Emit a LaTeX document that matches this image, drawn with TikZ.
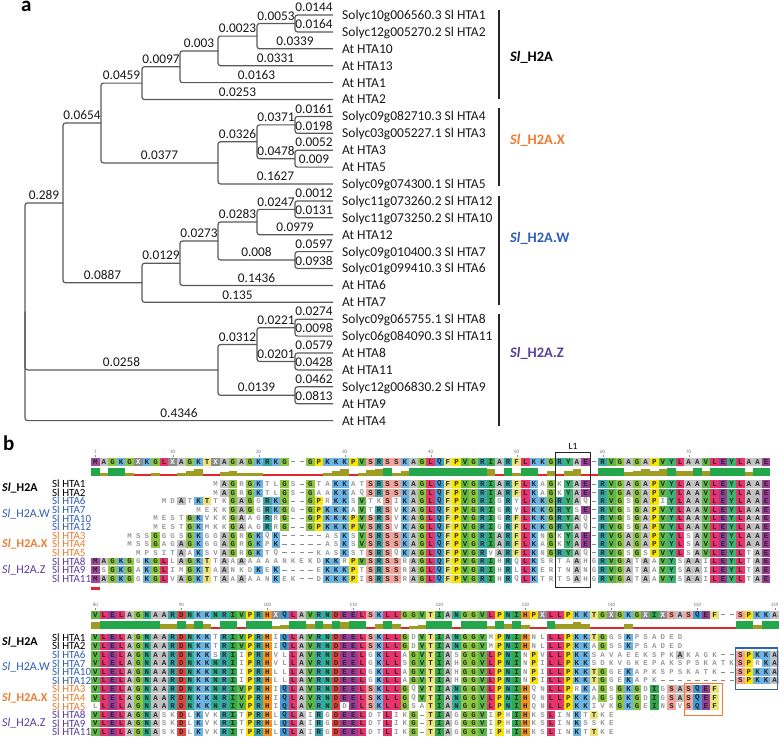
\documentclass[tikz,border=0pt]{standalone}
\usepackage{fontspec}
\setmainfont{Carlito}
\newfontfamily\resfam{Liberation Mono}
\definecolor{treegray}{HTML}{5A5A5A}
\definecolor{grpX}{HTML}{ED7D31}
\definecolor{grpW}{HTML}{2F5EB5}
\definecolor{grpZ}{HTML}{5A3E9E}
\definecolor{aaA}{HTML}{C2C2C2}
\definecolor{aaC}{HTML}{F0DC82}
\definecolor{aaD}{HTML}{E6433F}
\definecolor{aaE}{HTML}{9B3C96}
\definecolor{aaF}{HTML}{E9E57A}
\definecolor{aaG}{HTML}{8DC63F}
\definecolor{aaH}{HTML}{F7941D}
\definecolor{aaI}{HTML}{30AA4C}
\definecolor{aaK}{HTML}{6BB5E6}
\definecolor{aaL}{HTML}{E8336D}
\definecolor{aaM}{HTML}{A5489E}
\definecolor{aaN}{HTML}{2EAF8F}
\definecolor{aaP}{HTML}{FBE300}
\definecolor{aaQ}{HTML}{3F9CD6}
\definecolor{aaR}{HTML}{38A6AB}
\definecolor{aaS}{HTML}{F3A49B}
\definecolor{aaT}{HTML}{F1E278}
\definecolor{aaV}{HTML}{5DB947}
\definecolor{aaW}{HTML}{98CFE8}
\definecolor{aaY}{HTML}{3CB371}
\definecolor{aaX}{HTML}{8C8C8C}
\definecolor{barG}{HTML}{24A64A}
\definecolor{barO}{HTML}{9E9C22}
\definecolor{barR}{HTML}{E3262B}
\definecolor{boxB}{HTML}{2D62B5}
\definecolor{boxO}{HTML}{F07D28}
\makeatletter
\newcount\colidx
\newcount\sumcnt
\newcount\tmpcnt
\def\pitch{8.6}
\def\xzero{95.3}
\def\incr#1{\ifcsname#1\endcsname
  \expandafter\xdef\csname#1\endcsname{\the\numexpr\csname#1\endcsname+1\relax}%
  \else\expandafter\xdef\csname#1\endcsname{1}\fi}
\def\storecons#1#2{\gdef\curblk{#1}\global\colidx=0 \storeconsloop#2\relax}
\def\storeconsloop#1{\ifx#1\relax\expandafter\@gobble\else\expandafter\@firstofone\fi
  {\global\advance\colidx by 1
   \expandafter\xdef\csname cons-\curblk-\the\colidx\endcsname{#1}%
   \storeconsloop}}
\def\drawrow#1#2#3{\gdef\curblk{#1}\gdef\rowy{#2}\global\colidx=0 \drawrowloop#3\relax}
\def\drawrowloop#1{\ifx#1\relax\expandafter\@gobble\else\expandafter\@firstofone\fi
  {\global\advance\colidx by 1 \drawcell#1\drawrowloop}}
\def\gapmark{\draw[gapline] (\cx-2.2,\rowy) -- (\cx+2.2,\rowy);}
\def\drawcell#1{%
  \pgfmathsetmacro\cx{\xzero+(\the\colidx-1)*\pitch}%
  \ifx#1.\else
    \incr{n-\curblk-\the\colidx}%
    \ifx#1-%
      \gapmark
    \else
      \incr{cnt-\curblk-\the\colidx-#1}%
      \edef\cc{\csname cons-\curblk-\the\colidx\endcsname}%
      \if#1\cc
        \fill[aa#1] (\cx-4.3,\rowy-3.9) rectangle (\cx+4.3,\rowy+3.9);%
        \node[resdark] at (\cx,\rowy) {#1};%
      \else
        \node[reslight] at (\cx,\rowy) {#1};%
      \fi
    \fi
  \fi}
\def\drawconsrow#1#2{\gdef\curblk{#1}\gdef\rowy{#2}\global\colidx=0 \consloop}
\def\consloop{\global\advance\colidx by 1
  \ifcsname cons-\curblk-\the\colidx\endcsname
    \expandafter\@firstofone\else\expandafter\@gobble\fi
  {\edef\cc{\csname cons-\curblk-\the\colidx\endcsname}\drawconscell\consloop}}
\def\drawconscell{%
  \pgfmathsetmacro\cx{\xzero+(\the\colidx-1)*\pitch}%
  \if-\cc
    \gapmark
  \else
    \edef\fc{aa\cc}%
    \fill[fill=\fc] (\cx-4.3,\rowy-3.9) rectangle (\cx+4.3,\rowy+3.9);%
    \if X\cc \node[resX] at (\cx,\rowy) {X};\else \node[resdark] at (\cx,\rowy) {\cc};\fi
  \fi}
\def\drawbars#1#2#3{%
  \foreach \k in {1,...,#3}{%
    \global\sumcnt=0
    \foreach \L in {A,C,D,E,F,G,H,I,K,L,M,N,P,Q,R,S,T,V,W,Y}{%
      \ifcsname cnt-#1-\k-\L\endcsname
        \tmpcnt=\csname cnt-#1-\k-\L\endcsname\relax
        \global\advance\sumcnt by \numexpr\tmpcnt*(\tmpcnt-1)\relax
      \fi}%
    \ifcsname n-#1-\k\endcsname \tmpcnt=\csname n-#1-\k\endcsname\relax\else\tmpcnt=0 \fi
    \ifnum\tmpcnt>1
      \pgfmathsetmacro\bx{\xzero+(\k-1)*\pitch}%
      \ifnum\sumcnt=\numexpr\tmpcnt*(\tmpcnt-1)\relax
        \fill[barG] (\bx-4.3,#2-8.5) rectangle (\bx+4.3,#2);%
      \else
        \pgfmathsetmacro\idn{\the\sumcnt/(\the\tmpcnt*(\the\tmpcnt-1))}%
        \pgfmathsetmacro\bh{max(1.8,\idn*8.5)}%
        \ifdim\idn pt<0.3pt \def\bc{barR}\else\def\bc{barO}\fi
        \fill[fill=\bc] (\bx-4.3,#2-\bh) rectangle (\bx+4.3,#2);%
      \fi
    \fi}}
\def\tickmark#1#2#3{%
  \pgfmathsetmacro\tx{\xzero+(#1-1)*\pitch}%
  \draw[black!45, line width=0.4pt] (\tx,#3-7) -- (\tx,#3-4.4);%
  \node[font=\fontsize{5}{5}\selectfont, text=black!55, inner sep=0pt] at (\tx,#3-9.6) {#2};}
\makeatother
\tikzset{
  br/.style={draw=treegray, line width=1.2pt, rounded corners=2.5pt},
  bl/.style={font=\fontsize{13.3}{14}\selectfont, anchor=base, inner sep=0pt, yshift=3.3pt, text=black!90},
  leaf/.style={font=\fontsize{13.5}{14}\selectfont, anchor=base west, inner sep=0pt, text=black!90},
  grpbar/.style={draw=black!85, line width=1.6pt},
  grplab/.style={font=\bfseries\fontsize{14.5}{15}\selectfont, anchor=west, inner sep=0pt},
  resdark/.style={font=\resfam\bfseries\fontsize{7.4}{7.4}\selectfont, inner sep=0pt, text=black!85},
  reslight/.style={font=\resfam\bfseries\fontsize{7.4}{7.4}\selectfont, inner sep=0pt, text=black!40},
  resX/.style={font=\resfam\bfseries\fontsize{7.4}{7.4}\selectfont, inner sep=0pt, text=white},
  gapline/.style={draw=black!45, line width=0.7pt},
  rowlab/.style={font=\fontsize{11}{11}\selectfont, anchor=west, inner sep=0pt},
  blab/.style={font=\fontsize{12}{12}\selectfont, anchor=west, inner sep=0pt},
  panel/.style={font=\bfseries\fontsize{21}{21}\selectfont, anchor=base west, inner sep=0pt},
}
\begin{document}
\begin{tikzpicture}[x=1pt,y=-1pt]
\useasboundingbox (0,0) rectangle (780,740);
\fill[white] (0,0) rectangle (780,740);
% ---------------- panel a -----------------
\node[panel] (pa) at (21,11) {a};
\coordinate (R) at (25,311.75);
\coordinate (n11) at (63,202.9);
\coordinate (n21) at (218,369.9);
\coordinate (n6) at (101,123);
\coordinate (n12) at (142,282.75);
\coordinate (n5) at (142,83.1);
\coordinate (n7) at (218,162.9);
\coordinate (n4) at (180,66.75);
\coordinate (n3) at (218,50.9);
\coordinate (n2) at (257,36.1);
\coordinate (n1) at (295,23.45);
\coordinate (n8) at (257,141.75);
\coordinate (n9) at (295,124.85);
\coordinate (n10) at (295,158.65);
\coordinate (n17) at (180,263.2);
\coordinate (n16) at (218,241);
\coordinate (n14) at (257,222);
\coordinate (n15) at (295,260.05);
\coordinate (n13) at (295,209.35);
\coordinate (n20) at (257,344.55);
\coordinate (n22) at (295,395.25);
\coordinate (n18) at (295,327.65);
\coordinate (n19) at (295,361.45);
\foreach \i in {0,...,24} { \coordinate (l\i) at (333,{15+16.9*\i}); }
\foreach \p/\c/\t in {R/n11/0.289, R/n21/0.0258, R/l24/0.4346,
  n11/n6/0.0654, n11/n12/0.0887, n6/n5/0.0459, n6/n7/0.0377,
  n5/n4/0.0097, n5/l5/0.0253, n4/n3/0.003, n4/l4/0.0163,
  n3/n2/0.0023, n3/l3/0.0331, n2/n1/0.0053, n2/l2/0.0339,
  n1/l0/0.0144, n1/l1/0.0164, n7/n8/0.0326, n7/l10/0.1627,
  n8/n9/0.0371, n8/n10/0.0478, n9/l6/0.0161, n9/l7/0.0198,
  n10/l8/0.0052, n10/l9/0.009, n12/n17/0.0129, n12/l17/0.135,
  n17/n16/0.0273, n17/l16/0.1436, n16/n14/0.0283, n16/n15/0.008,
  n14/n13/0.0247, n14/l13/0.0979, n13/l11/0.0012, n13/l12/0.0131,
  n15/l14/0.0597, n15/l15/0.0938, n21/n20/0.0312, n21/n22/0.0139,
  n20/n18/0.0221, n20/n19/0.0201, n18/l18/0.0274, n18/l19/0.0098,
  n19/l20/0.0579, n19/l21/0.0428, n22/l22/0.0462, n22/l23/0.0813}
  { \draw[br] (\p) |- (\c) node[bl,pos=0.75] (lab-\p-\c) {\t}; }
\foreach \i/\t in {0/Solyc10g006560.3 Sl HTA1, 1/Solyc12g005270.2 Sl HTA2,
  2/At HTA10, 3/At HTA13, 4/At HTA1, 5/At HTA2,
  6/Solyc09g082710.3 Sl HTA4, 7/Solyc03g005227.1 Sl HTA3, 8/At HTA3, 9/At HTA5,
  10/Solyc09g074300.1 Sl HTA5, 11/Solyc11g073260.2 Sl HTA12,
  12/Solyc11g073250.2 Sl HTA10, 13/At HTA12, 14/Solyc09g010400.3 Sl HTA7,
  15/Solyc01g099410.3 Sl HTA6, 16/At HTA6, 17/At HTA7,
  18/Solyc09g065755.1 Sl HTA8, 19/Solyc06g084090.3 Sl HTA11, 20/At HTA8,
  21/At HTA11, 22/Solyc12g006830.2 Sl HTA9, 23/At HTA9, 24/At HTA4}
  { \node[leaf] (t\i) at ([xshift=9pt,yshift=-4.4pt]l\i) {\t}; }
\coordinate (g1a) at (499,10);  \coordinate (g1b) at (499,99);
\coordinate (g2a) at (499,108); \coordinate (g2b) at (499,186);
\coordinate (g3a) at (499,196); \coordinate (g3b) at (499,305);
\coordinate (g4a) at (499,314); \coordinate (g4b) at (499,426);
\draw[grpbar] (g1a) -- (g1b);
\draw[grpbar] (g2a) -- (g2b);
\draw[grpbar] (g3a) -- (g3b);
\draw[grpbar] (g4a) -- (g4b);
\node[grplab] (ga1) at (510,57) {\textit{Sl}\_H2A};
\node[grplab, text=grpX] (ga2) at (510,140) {\textit{Sl}\_H2A.X};
\node[grplab, text=grpW] (ga3) at (510,238) {\textit{Sl}\_H2A.W};
\node[grplab, text=grpZ] (ga4) at (510,353) {\textit{Sl}\_H2A.Z};
% ---------------- panel b -----------------
\node[panel] (pb) at (3,450) {b};
\storecons{a}{MAGKGXKGLXAGKTXAGAGKRKG--GPKKKPVSRSSKAGLQFPVGRIARFLKKGRYAE-RVGAGAPVYLAAVLEYLAAE}
\storecons{b}{VLELAGNAARDNKKNRIVPRHXQLAVRNDEELSKLLGGVTIANGGVLPNIHPXLLPKKTGXGKGXIXSASQEF--SPKKA}
% block 1 rows
\drawrow{a}{484}{..............MAGRGKTLGS-GTAKKATSRSSKAGLQFPVGRIARFLKAGKYAE-RVGAGAPVYLAAVLEYLAAE}
\drawrow{a}{492.6}{..............MAGRGKTLGS-GAAKKAQSRSSKAGLQFPVGRIARFLKAGKYAE-RVGAGAPVYLAAVLEYLAAE}
\drawrow{a}{501.2}{........MDATKTTKGAGGRKG--GPRKKSVTKSIKAGLQFPVGRIGRYLKKGRYAQ-RVGSGAPIYLAAVLEYLAAE}
\drawrow{a}{509.8}{............MEKKGAGGRKGG-GPKKKAVTRSVKAGLQFPVGRIGRYLKKGRYSE-RVGSGAPVYLAAVLEYLAAE}
\drawrow{a}{518.4}{.......MESTGKVKKGAAGRRG--GPKKKPVSRSVKAGLQFPVGRIGRFLKKGRYAQ-RVGSGAPVYLAAVLEYLAAE}
\drawrow{a}{527}{.......MESTGKMKKGAAGRRG--GPKKKPVSRSVKAGLQFPVGRIGRFLKKGRYAQ-RVGSGAPVYLAAVLEYLAAE}
\drawrow{a}{535.6}{....MSSGGGSGKGGAGRGKQK-----ASKSVSRSSKAGLQFPVGRIARFLKNGKYAE-RVGAGAPVYLSAVLEYLAAE}
\drawrow{a}{544.2}{....MSSGAGAGKGGAGRGKPK-----ASKSVSRSSKAGLQFPVGRIARFLKAGKYAE-RVGAGAPVYLSAVLEYLAAE}
\drawrow{a}{552.8}{.....MPSITAAKSVAGRGKTQ----KASKSTSRSQKAGLQFPVGRVARFLKNGRYAQ-RVGSGSPVYLSAVLEYLTAE}
\drawrow{a}{561.4}{MAGKGGKGLLAGKTTAAAAAAANKEKDKKRPVSRSSRAGLQFPVGRIHRQLKSRTAAHGRVGATAAVYSAAILEYLTAE}
\drawrow{a}{570}{MSGKGAKGLIMGKTAANKDKEK----EKKKPTSRSSRAGLQFPVGRIHRLLKERTNANGRVGATAAVYSAAILEYLTAE}
\drawrow{a}{578.6}{MAGKGGKGLVAGKTTAAAAANKEK--DKKKPISRSSRAGLQFPVGRIHRQLKTRTSAHGRVGATAAVYSAAILEYLTAE}
% block 2 rows
\drawrow{b}{637.5}{VLELAGNAARDNKKTRIVPRHIQLAVRNDEELSKLLGDVTIANGGVMPNIHNLLLPKKTGGSKPSADED...........}
\drawrow{b}{646.1}{VLELAGNAARDNKKTRIVPRHIQLAVRNDEELSKLLGDVTIANGGVMPNIHNLLLPKKAGSSKPSADED...........}
\drawrow{b}{654.7}{VLELAGNAARDNKKSRIIPRHVLLAVRNDEELGKLLAGVTIASGGVLPNINPVLLPKKSAVAEEKSPKAKAGK--SPKKA}
\drawrow{b}{663.3}{VLELAGNAARDNKKNRIIPRHVLLAVRNDEELGKLLSGVTIAHGGVLPNINPILLPKKSDKVGKEPAKSPSKATKSPRKA}
\drawrow{b}{671.9}{VLELAGNAARDNKKNRIIPRHLLLAVRNDEELGKLLAGVTIAHGGVLPNINPILLPKKTGGEKAPKSPSKATK--SPKKA}
\drawrow{b}{680.5}{VLELAGNAARDNKKNRIIPRHLLLAVRNDEELGKLLAGVTIAHGGVLPNINPILLPKKTGGEKAPK---------SPKKA}
\drawrow{b}{689.1}{VLELAGNAARDNKKNRIVPRHIQLAVRNDEELSKLLGQVTIANGGVLPNIHQNLLPRKAGSGKGDIGSASQEF.......}
\drawrow{b}{697.7}{VLELAGNAARDNKKNRIVPRHIQLAVRNDEELSKLLGQVTIANGGVLPNIHQNLLPKKAGSGKGDIGSASQEF.......}
\drawrow{b}{706.3}{LLELAGNAARDNKKNRIVPRHIQLAVRNDDELSKLLGSATIANGGVLPNIHQNLLPKKIVKGKGEINSVSQEF.......}
\drawrow{b}{714.9}{VLELAGNASKDLKVKRITPRHLQLAIRGDEELDTLIKG-TIAGGGVIPHIHKSLINKTTKE...................}
\drawrow{b}{723.5}{VLELAGNASKDLKVKRITPRHLQLAIRGDEELDTLIKG-TIAGGGVIPHIHKSLINKSSKE...................}
\drawrow{b}{732.1}{VLELAGNASKDLKVKRITPRHLQLAIRGDEELDTLIKG-TIAGGGVIPHIHKSLINKTTKE...................}
% consensus rows and identity bars
\drawconsrow{a}{461.8}
\drawconsrow{b}{614.8}
\drawbars{a}{476}{79}
\drawbars{b}{629}{80}
\foreach \c in {1,10,20,30,40,50,60,70} { \tickmark{\c}{\c}{461.8} }
\foreach \c/\t in {1/80,11/90,21/100,31/110,41/120,51/130,61/140,71/150,80/159} { \tickmark{\c}{\t}{614.8} }
\fill[barR] (90.5,586.5) rectangle (99.5,589.5);
% row labels
\foreach \blk/\y in {0/484,1/637.5} {
  \foreach \i/\t/\col in {0/Sl HTA1/black, 1/Sl HTA2/black, 2/Sl HTA6/grpW, 3/Sl HTA7/grpW,
     4/Sl HTA10/grpW, 5/Sl HTA12/grpW, 6/Sl HTA3/grpX, 7/Sl HTA4/grpX, 8/Sl HTA5/grpX,
     9/Sl HTA8/grpZ, 10/Sl HTA9/grpZ, 11/Sl HTA11/grpZ}
    { \node[rowlab, text=\col] (rl-\blk-\i) at (52,{\y+\i*8.6}) {\t}; }
  \node[blab] (bg1-\blk) at (2,{\y+4.3}) {\textbf{\textit{Sl}\_H2A}};
  \node[blab, text=grpW] (bg2-\blk) at (2,{\y+30.1}) {\textit{Sl}\_H2A.W};
  \node[blab, text=grpX] (bg3-\blk) at (2,{\y+60.2}) {\textbf{\textit{Sl}\_H2A.X}};
  \node[blab, text=grpZ] (bg4-\blk) at (2,{\y+86}) {\textit{Sl}\_H2A.Z};
}
% boxes
\draw[black!85, line width=1pt] (555.5,452.5) rectangle (590.5,587.5);
\node[font=\fontsize{9.5}{9.5}\selectfont, inner sep=0pt] (l1) at (573,446.5) {L1};
\draw[boxB, line width=1.8pt] (735.5,648) rectangle (777.5,689.5);
\draw[boxO, line width=1.8pt] (684.5,683.5) rectangle (722.5,715.5);
\end{tikzpicture}
\end{document}
